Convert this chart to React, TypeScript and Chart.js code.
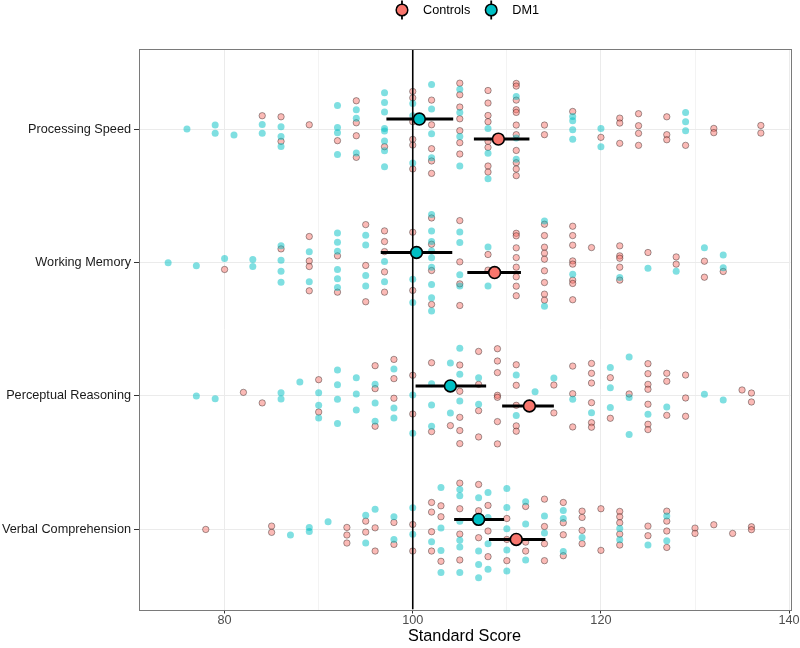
import React, { useEffect, useRef } from "react";
import { Chart, registerables } from "chart.js";

Chart.register(...registerables);

// ---------------- data ----------------
const categories = ["Processing Speed", "Working Memory", "Perceptual Reasoning", "Verbal Comprehension"];
const groups = ["Controls", "DM1"];
const groupColors = ["#F8766D", "#00BFC4"];
const xTicks = [80, 90, 100, 110, 120, 130, 140];
const xLabelTicks = [80, 100, 120, 140];
const xMin = 70.85;
const xMax = 140.15;
const yMin = 0.4;
const yMax = 4.6;
const referenceScore = 100;
const dodge = 0.075;

// individual scores: [score, vertical swarm offset in category units]
const psControls: [number, number][] = [
  [84, 0.1], [86, 0.092], [86, -0.092], [89, 0.032], [92, -0.087],
  [94, 0.212], [94, 0.047], [94, -0.05], [94, -0.212], [97, -0.132],
  [100, 0.282], [100, 0.234], [100, 0.055], [100, -0.077], [100, -0.12], [100, -0.299],
  [102, 0.217], [102, 0.032], [102, -0.147], [102, -0.239], [102, -0.332],
  [105, 0.344], [105, 0.257], [105, 0.165], [105, 0.077], [105, -0.012], [105, -0.102], [105, -0.187],
  [108, 0.289], [108, 0.195], [108, 0.102], [108, 0.055], [108, -0.092], [108, -0.137], [108, -0.277], [108, -0.322],
  [111, 0.342], [111, 0.322], [111, 0.217], [111, 0.145], [111, 0.125], [111, 0.03], [111, -0.042], [111, -0.16], [111, -0.252], [111, -0.299], [111, -0.349],
  [114, 0.03], [114, -0.042], [117, 0.132], [120, -0.062],
  [122, 0.082], [122, 0.045], [122, -0.107],
  [124, 0.115], [124, 0.025], [124, -0.032], [124, -0.122],
  [127, 0.092], [127, -0.042], [127, -0.08], [129, -0.122],
  [132, 0.005], [132, -0.027], [137, 0.027], [137, -0.03],
];
const psDM1: [number, number][] = [
  [76, 0], [79, 0.03], [79, -0.032], [81, -0.045], [84, 0.035], [84, -0.032],
  [86, 0.017], [86, -0.055], [86, -0.13],
  [92, 0.177], [92, 0.012], [92, -0.027], [92, -0.19],
  [94, 0.145], [94, 0.082], [94, -0.18],
  [97, 0.272], [97, 0.2], [97, 0.127], [97, 0.005], [97, -0.015], [97, -0.09], [97, -0.162], [97, -0.282],
  [100, 0.192], [100, 0.1], [100, -0.254],
  [102, 0.334], [102, 0.15], [102, -0.035], [102, -0.214],
  [105, 0.299], [105, 0.125], [105, -0.055], [105, -0.277],
  [108, 0.005], [108, -0.182], [108, -0.372],
  [111, 0.244], [111, -0.067], [111, -0.227],
  [117, 0.095], [117, 0.062], [117, -0.005], [117, -0.077],
  [120, 0.005], [120, -0.132], [129, 0.125], [129, 0.055], [129, -0.012],
];
const wmControls: [number, number][] = [
  [80, -0.052], [86, 0.102], [89, 0.195], [89, 0.012], [89, -0.03], [89, -0.212],
  [92, 0.05], [92, -0.222], [95, 0.284], [95, -0.022], [95, -0.294],
  [97, 0.237], [97, 0.157], [97, 0.082], [97, -0.07], [97, -0.222],
  [100, 0.227], [100, -0.209], [102, 0.334], [102, 0.137], [102, -0.06], [102, -0.314],
  [105, 0.314], [105, 0.005], [105, -0.16], [105, -0.322], [108, 0.06], [108, -0.057],
  [111, 0.219], [111, 0.2], [111, 0.11], [111, 0.037], [111, -0.035], [111, -0.107], [111, -0.177], [111, -0.249],
  [114, 0.287], [114, 0.202], [114, 0.115], [114, 0.07], [114, 0.025], [114, -0.062], [114, -0.15], [114, -0.237], [114, -0.282],
  [117, 0.272], [117, 0.202], [117, 0.13], [117, 0.012], [117, -0.012], [117, -0.132], [117, -0.157], [117, -0.279],
  [119, 0.112], [122, 0.125], [122, 0.05], [122, 0.032], [122, -0.035], [122, -0.132],
  [125, 0.075], [128, 0.042], [128, -0.012], [131, 0.01], [131, -0.11], [133, -0.067],
];
const wmDM1: [number, number][] = [
  [74, -0.002], [77, -0.025], [80, 0.03], [83, 0.022], [83, -0.03],
  [86, 0.125], [86, 0.017], [86, -0.065], [86, -0.147], [89, 0.08], [89, -0.145],
  [92, 0.222], [92, 0.152], [92, 0.085], [92, -0.052], [92, -0.122], [92, -0.187],
  [95, 0.204], [95, 0.132], [95, -0.097], [95, -0.175], [97, 0.007], [97, -0.145],
  [100, -0.125], [100, -0.299],
  [102, 0.359], [102, 0.237], [102, 0.157], [102, 0.087], [102, 0.035], [102, -0.035], [102, -0.165], [102, -0.264], [102, -0.364],
  [105, 0.229], [105, 0.15], [105, -0.092], [105, -0.175], [108, 0.117], [108, -0.175],
  [114, 0.312], [114, -0.327], [117, -0.087], [122, -0.112], [125, -0.042], [128, -0.065],
  [131, 0.11], [133, 0.057], [133, -0.04],
];
const prControls: [number, number][] = [
  [82, 0.027], [84, -0.052], [90, 0.122], [90, -0.12],
  [96, 0.227], [96, 0.055], [96, -0.227], [98, 0.274], [98, 0.13], [98, -0.017],
  [100, 0.155], [100, -0.135], [102, 0.249], [102, -0.267], [104, -0.222],
  [105, 0.232], [105, 0.035], [105, -0.16], [105, -0.259], [105, -0.357],
  [107, 0.334], [107, 0.087], [107, -0.11], [107, -0.307],
  [109, 0.354], [109, 0.262], [109, 0.175], [109, 0.005], [109, -0.01], [109, -0.192], [109, -0.359],
  [111, 0.234], [111, 0.08], [111, -0.07], [111, -0.224], [111, -0.264],
  [115, 0.082], [115, -0.127], [117, 0.224], [117, 0.017], [117, -0.232],
  [119, 0.244], [119, 0.17], [119, 0.097], [119, -0.05], [119, -0.2], [119, -0.234],
  [121, 0.137], [121, -0.167], [123, 0.015],
  [125, 0.242], [125, 0.167], [125, 0.087], [125, 0.05], [125, -0.062], [125, -0.212], [125, -0.252],
  [127, 0.17], [127, 0.11], [127, -0.145], [129, 0.157], [129, -0.015], [129, -0.152],
  [135, 0.045], [136, 0.022], [136, -0.045],
];
const prDM1: [number, number][] = [
  [77, 0], [79, -0.02], [86, 0.025], [86, -0.022], [88, 0.105],
  [90, 0.025], [90, -0.07], [90, -0.165], [92, 0.195], [92, 0.085], [92, -0.025], [92, -0.207],
  [94, 0.137], [94, 0.015], [94, -0.105], [96, 0.087], [96, -0.052], [96, -0.19],
  [98, 0.202], [98, -0.09], [98, -0.165], [100, 0.007], [100, -0.279],
  [102, 0.092], [102, -0.067], [102, -0.227], [104, 0.247], [104, -0.127],
  [105, 0.357], [105, 0.162], [105, -0.037], [107, 0.137], [107, -0.062],
  [111, 0.157], [111, -0.147], [113, 0.032], [115, 0.135], [117, -0.025], [119, -0.125],
  [121, 0.214], [121, 0.062], [121, -0.087], [123, 0.292], [123, -0.012], [123, -0.289],
  [125, -0.137], [127, -0.082], [131, 0.012], [133, -0.03],
];
const vcControls: [number, number][] = [
  [78, 0], [85, 0.025], [85, -0.022], [93, 0.015], [93, -0.042], [93, -0.102],
  [95, 0.062], [95, -0.02], [96, 0.012], [96, -0.162], [98, 0.052], [98, -0.112],
  [100, 0.037], [100, -0.162], [102, 0.202], [102, 0.13], [102, -0.017], [102, -0.162],
  [103, 0.177], [103, 0.095], [103, -0.239], [105, 0.347], [105, 0.155], [105, -0.035], [105, -0.229],
  [107, 0.337], [107, 0.14], [107, -0.062], [108, 0.18], [108, -0.012], [108, -0.204],
  [110, 0.082], [110, -0.075], [110, -0.234], [112, 0.172], [112, -0.095], [112, -0.162],
  [114, 0.227], [114, 0.022], [114, -0.107], [114, -0.234],
  [116, 0.202], [116, 0.05], [116, -0.04], [116, -0.197],
  [118, 0.137], [118, 0.09], [118, -0.007], [118, -0.107], [120, 0.155], [120, -0.157],
  [122, 0.135], [122, 0.095], [122, 0.05], [122, -0.035], [122, -0.117],
  [125, 0.025], [125, -0.047], [127, 0.137], [127, 0.062], [127, -0.012], [127, -0.135],
  [130, 0.01], [130, -0.03], [132, 0.035], [134, -0.03], [136, 0.02], [136, -0.002],
];
const vcDM1: [number, number][] = [
  [87, -0.042], [89, 0.015], [89, -0.015], [91, 0.057], [95, 0.107], [95, -0.102],
  [96, 0.152], [98, 0.095], [98, -0.075], [100, 0.162], [100, -0.037], [102, -0.092],
  [103, 0.314], [103, 0.01], [103, -0.157], [103, -0.322],
  [105, 0.299], [105, 0.252], [105, 0.062], [105, -0.082], [105, -0.132], [105, -0.322],
  [107, 0.237], [107, -0.162], [107, -0.262], [107, -0.362],
  [108, 0.277], [108, 0.09], [108, -0.107], [108, -0.299],
  [110, 0.307], [110, 0.165], [110, 0.005], [110, -0.155], [110, -0.312],
  [112, 0.207], [112, 0.04], [112, -0.229], [114, 0.1], [114, -0.027],
  [116, 0.142], [116, 0.082], [116, -0.165], [118, -0.06], [122, 0.007], [122, -0.077],
  [125, -0.117], [127, 0.1], [127, -0.085],
];

// group means with interval ends (category order as above)
const controlsMean = [109.1, 108.7, 112.4, 111.0];
const controlsLow = [106.5, 105.8, 109.5, 108.1];
const controlsHigh = [112.4, 111.5, 115.0, 114.1];
const dm1Mean = [100.7, 100.4, 104.0, 107.0];
const dm1Low = [97.2, 96.6, 100.3, 104.4];
const dm1High = [104.3, 104.2, 107.8, 109.7];

// ---------------- styling ----------------
const FONT = "'Liberation Sans', Arial, Helvetica, sans-serif";
const TEXT_SIZE = 12.7;

const catPos = (i: number) => categories.length - i;

function buildPoints(sets: [number, number][][]) {
  const pts: { x: number; y: number }[] = [];
  sets.forEach((set, ci) => {
    set.forEach(([s, j]) => pts.push({ x: s, y: catPos(ci) + j }));
  });
  return pts;
}

const legendPlugin = {
  id: "ggLegend",
  afterDraw(chart: any) {
    const ctx = chart.ctx as CanvasRenderingContext2D;
    ctx.save();
    ctx.font = `${TEXT_SIZE}px ${FONT}`;
    const keyHalf = 8.6;
    const textGap = 21;
    const itemGap = 21;
    const widths = groups.map((g) => ctx.measureText(g).width);
    let total = keyHalf;
    widths.forEach((w, i) => {
      total += textGap + w + (i < widths.length - 1 ? itemGap : 0);
    });
    total += keyHalf;
    const centerX = 470.5;
    const cy = 10;
    let x = centerX - total / 2 + keyHalf;
    groups.forEach((g, i) => {
      ctx.strokeStyle = "#000";
      ctx.lineWidth = 1.8;
      ctx.beginPath();
      ctx.moveTo(x, cy - 9.5);
      ctx.lineTo(x, cy + 9.5);
      ctx.stroke();
      ctx.beginPath();
      ctx.arc(x, cy, 5.8, 0, Math.PI * 2);
      ctx.fillStyle = groupColors[i];
      ctx.fill();
      ctx.lineWidth = 1.5;
      ctx.stroke();
      ctx.fillStyle = "#000";
      ctx.textBaseline = "middle";
      ctx.textAlign = "left";
      ctx.fillText(g, x + textGap, cy + 0.5);
      x += textGap + widths[i] + itemGap;
    });
    ctx.restore();
  },
};

const borderPlugin = {
  id: "panelBorder",
  afterDatasetsDraw(chart: any) {
    const { ctx, chartArea } = chart;
    ctx.save();
    ctx.strokeStyle = "#7a7a7a";
    ctx.lineWidth = 1;
    ctx.strokeRect(
      Math.round(chartArea.left) + 0.5,
      Math.round(chartArea.top) + 0.5,
      Math.round(chartArea.right - chartArea.left),
      Math.round(chartArea.bottom - chartArea.top)
    );
    ctx.restore();
  },
};

export default function App() {
  const ref = useRef<HTMLCanvasElement | null>(null);

  useEffect(() => {
    document.body.style.margin = "0";
    const canvas = ref.current;
    if (!canvas) return;

    const controlsPts = buildPoints([psControls, wmControls, prControls, vcControls]);
    const dm1Pts = buildPoints([psDM1, wmDM1, prDM1, vcDM1]);

    const errorBars: any[] = [];
    categories.forEach((_, ci) => {
      errorBars.push({
        data: [
          { x: controlsLow[ci], y: catPos(ci) - dodge },
          { x: controlsHigh[ci], y: catPos(ci) - dodge },
        ],
        showLine: true,
        borderColor: "#000",
        borderWidth: 3,
        borderCapStyle: "butt",
        pointRadius: 0,
        order: 1,
      });
      errorBars.push({
        data: [
          { x: dm1Low[ci], y: catPos(ci) + dodge },
          { x: dm1High[ci], y: catPos(ci) + dodge },
        ],
        showLine: true,
        borderColor: "#000",
        borderWidth: 3,
        borderCapStyle: "butt",
        pointRadius: 0,
        order: 1,
      });
    });

    const chart = new Chart(canvas, {
      type: "scatter",
      data: {
        datasets: [
          {
            label: "Controls points",
            data: controlsPts,
            pointRadius: 3.2,
            backgroundColor: "rgba(248,118,109,0.5)",
            borderColor: "rgba(0,0,0,0.45)",
            borderWidth: 0.8,
            order: 4,
          },
          {
            label: "DM1 points",
            data: dm1Pts,
            pointRadius: 3.5,
            backgroundColor: "rgba(0,191,196,0.5)",
            borderWidth: 0,
            order: 3,
          },
          {
            label: "reference",
            data: [
              { x: referenceScore, y: yMin },
              { x: referenceScore, y: yMax },
            ],
            showLine: true,
            borderColor: "#000",
            borderWidth: 1.6,
            pointRadius: 0,
            order: 2,
          },
          ...errorBars,
          {
            label: "Controls",
            data: controlsMean.map((m, ci) => ({ x: m, y: catPos(ci) - dodge })),
            pointRadius: 5.9,
            backgroundColor: groupColors[0],
            borderColor: "#000",
            borderWidth: 1.6,
            order: 0,
          },
          {
            label: "DM1",
            data: dm1Mean.map((m, ci) => ({ x: m, y: catPos(ci) + dodge })),
            pointRadius: 5.9,
            backgroundColor: groupColors[1],
            borderColor: "#000",
            borderWidth: 1.6,
            order: 0,
          },
        ],
      },
      options: {
        responsive: false,
        animation: false,
        events: [],
        layout: { padding: { top: 49, right: 9.5, bottom: 0, left: 0 } },
        plugins: {
          legend: { display: false },
          tooltip: { enabled: false },
        },
        scales: {
          x: {
            type: "linear",
            min: xMin,
            max: xMax,
            afterBuildTicks: (scale: any) => {
              scale.ticks = xTicks.map((v) => ({ value: v }));
            },
            afterFit: (scale: any) => {
              scale.height = 38.5;
            },
            border: { display: false },
            grid: {
              color: "#EBEBEB",
              lineWidth: (ctx: any) => (ctx.tick && xLabelTicks.includes(ctx.tick.value) ? 1 : 0.6),
              tickColor: (ctx: any) => (ctx.tick && xLabelTicks.includes(ctx.tick.value) ? "#333333" : "rgba(0,0,0,0)"),
              tickLength: 4,
              tickWidth: 1,
            },
            ticks: {
              autoSkip: false,
              maxRotation: 0,
              padding: -1,
              color: "#4D4D4D",
              font: { family: FONT, size: TEXT_SIZE },
              callback: (v: any) => (xLabelTicks.includes(Number(v)) ? String(v) : ""),
            },
            title: {
              display: true,
              text: "Standard Score",
              color: "#000",
              font: { family: FONT, size: 16.3 },
              padding: { top: 0, bottom: 2 },
            },
          },
          y: {
            type: "linear",
            min: yMin,
            max: yMax,
            afterBuildTicks: (scale: any) => {
              scale.ticks = categories.map((_, i) => ({ value: catPos(i) }));
            },
            afterFit: (scale: any) => {
              scale.width = 138.5;
            },
            border: { display: false },
            grid: {
              color: "#EBEBEB",
              lineWidth: 1,
              tickColor: "#333333",
              tickLength: 4.5,
              tickWidth: 1,
            },
            ticks: {
              autoSkip: false,
              padding: 3,
              color: "#1a1a1a",
              font: { family: FONT, size: TEXT_SIZE },
              callback: (v: any) => categories[categories.length - Number(v)] ?? "",
            },
          },
        },
      } as any,
      plugins: [borderPlugin, legendPlugin],
    });

    return () => {
      chart.destroy();
    };
  }, []);

  return (
    <div style={{ width: 800, height: 648 }}>
      <canvas ref={ref} width={800} height={648} style={{ display: "block", width: 800, height: 648 }} />
    </div>
  );
}
